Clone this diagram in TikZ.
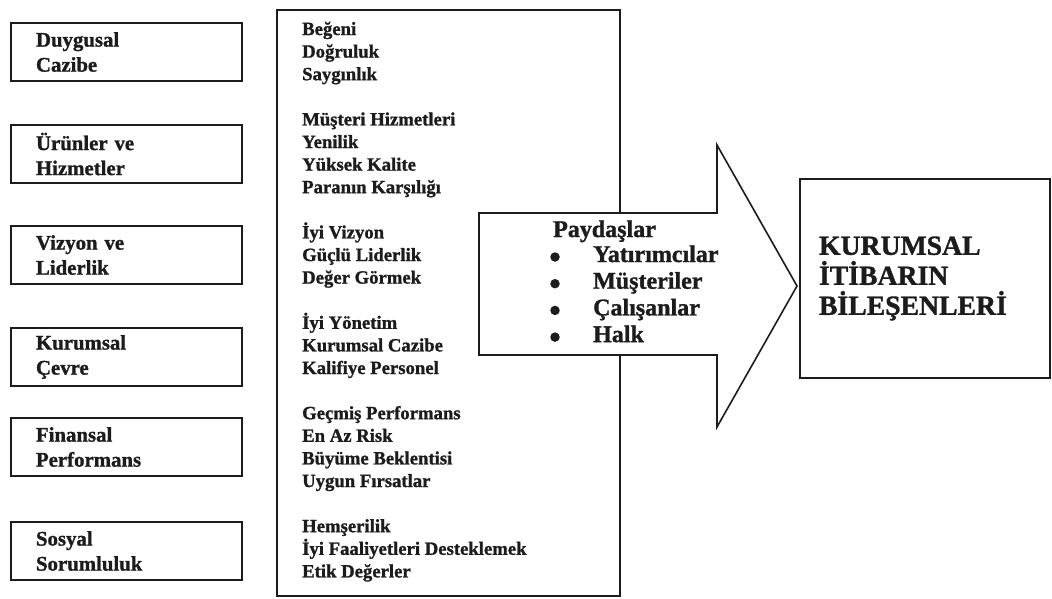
\documentclass[tikz,border=0pt]{standalone}
\usepackage{fontspec}
\setmainfont{Liberation Serif}[BoldFeatures={FakeBold=1.2}]
\usetikzlibrary{positioning}
\definecolor{ink}{HTML}{1C1C1C}
\tikzstyle{factor} = [draw=ink, line width=2.8pt, rectangle, outer sep=0pt, minimum width=231pt, minimum height=58pt, inner xsep=25pt, inner ysep=0pt, text width=181pt, align=left, text=ink, font=\fontsize{20.8}{25}\selectfont\bfseries]
\tikzstyle{frame} = [draw=ink, line width=2.4pt, rectangle, outer sep=0pt, inner sep=0pt]
\tikzstyle{item} = [inner sep=0pt, text=ink, font=\fontsize{18.7}{22.6}\selectfont\bfseries]
\tikzstyle{flow} = [draw=ink, line width=1.6pt, fill=white, line join=miter]
\tikzstyle{stk} = [inner sep=0pt, text=ink, font=\fontsize{24}{27}\selectfont\bfseries]
\tikzstyle{dot} = [circle, fill=ink, minimum size=9.5pt, inner sep=0pt]
\tikzstyle{outcome} = [draw=ink, line width=2.4pt, rectangle, outer sep=0pt, minimum width=250pt, minimum height=199pt, inner xsep=19pt, inner ysep=0pt, text width=212pt, align=left, text=ink, font=\fontsize{27.7}{30}\selectfont\bfseries]

\begin{document}
\begin{tikzpicture}[x=1pt, y=-1pt]
		\useasboundingbox (0,0) rectangle (1052,598);
		% dimensions
		\node (l1) [factor, anchor=north west] at (11,23) {Duygusal\\Cazibe};
		\node (l2) [factor, anchor=north west] at (11,125) {Ürünler ve\\Hizmetler};
		\node (l3) [factor, anchor=north west] at (11,226) {Vizyon ve\\Liderlik};
		\node (l4) [factor, anchor=north west] at (11,328) {Kurumsal\\Çevre};
		\node (l5) [factor, anchor=north west] at (11,418) {Finansal\\Performans};
		\node (l6) [factor, anchor=north west] at (11,522) {Sosyal\\Sorumluluk};
		% attributes
		\node (attr) [frame, minimum width=343pt, minimum height=586pt, anchor=north west] at (277,10) {};
		\foreach \n/\t in {0/Beğeni, 1/Doğruluk, 2/Saygınlık,
			4/Müşteri Hizmetleri, 5/Yenilik, 6/Yüksek Kalite, 7/Paranın Karşılığı,
			9/İyi Vizyon, 10/Güçlü Liderlik, 11/Değer Görmek,
			13/İyi Yönetim, 14/Kurumsal Cazibe, 15/Kalifiye Personel,
			17/Geçmiş Performans, 18/En Az Risk, 19/Büyüme Beklentisi, 20/Uygun Fırsatlar,
			22/Hemşerilik, 23/İyi Faaliyetleri Desteklemek, 24/Etik Değerler}
			\node (m\n) [item, anchor=base west] at (302,{35+22.6*\n}) {\t};
		% stakeholders arrow
		\draw[flow] (479,213) -- (717,213) -- (717,145) -- (797,286) -- (717,427) -- (717,355) -- (479,355) -- cycle;
		\node (stake) [stk, anchor=base west] at (553,237) {Paydaşlar};
		\foreach \n/\t in {1/Yatırımcılar, 2/Müşteriler, 3/Çalışanlar, 4/Halk} {
			\node (s\n) [stk, anchor=base west] at (593,{262+26.7*(\n-1)}) {\t};
			\node (b\n) [dot] at (555,{257+26.7*(\n-1)}) {};
		}
		% result
		\node (rep) [outcome, anchor=north west] at (800,179) {KURUMSAL\\İTİBARIN\\BİLEŞENLERİ};
\end{tikzpicture}
\end{document}
